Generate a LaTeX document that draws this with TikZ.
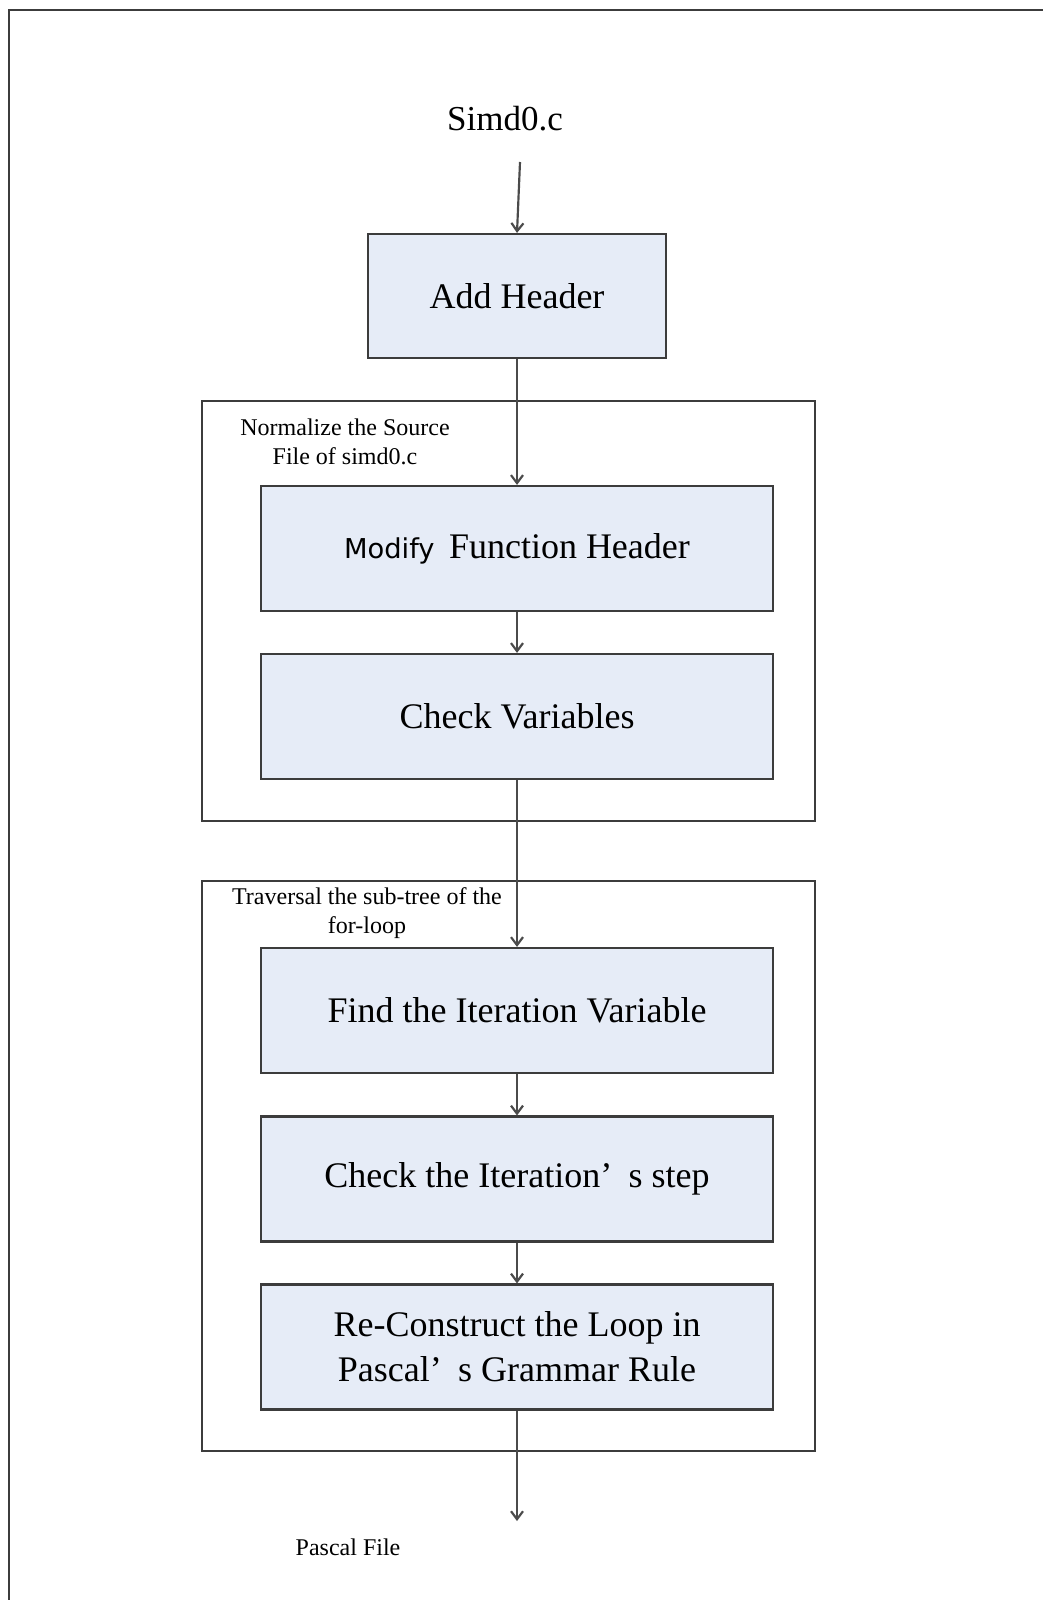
\documentclass[tikz,border=0pt]{standalone}
\usepackage{fontspec}
\setmainfont{Liberation Serif}
\newfontfamily\modfont{DejaVu Sans}
\usetikzlibrary{arrows.meta}
\definecolor{boxfill}{RGB}{230,236,247}
\definecolor{boxline}{RGB}{60,60,60}
\definecolor{flowline}{RGB}{75,75,75}
\tikzset{
  stepbox/.style={draw=boxline, line width=0.65pt, fill=boxfill, minimum width=153.6pt,
    minimum height=37.5pt, inner sep=0pt, align=center,
    font=\fontsize{10.8}{13.5}\selectfont},
  groupbox/.style={draw=boxline, line width=0.5pt, minimum width=183.9pt, inner sep=0pt},
  grouplabel/.style={align=center, inner sep=0pt, font=\fontsize{7.2}{8.6}\selectfont},
  flow/.style={draw=flowline, line width=0.65pt, -{Straight Barb[length=2.4pt,width=3.6pt]}}
}
\begin{document}
\begin{tikzpicture}[x=0.3pt, y=-0.3pt]
    \useasboundingbox (0,0) rectangle (1043,1600);

    % Frame
    \draw[boxline, line width=0.6pt] (9,1600) -- (9,10) -- (1043,10);

    % Input
    \node[inner sep=0pt, font=\fontsize{10.5}{12}\selectfont] (simd) at (505,119) {Simd0.c};
    \coordinate (start) at (520,162);
    \node[stepbox, minimum width=89.4pt, minimum height=37.2pt] (add) at (517,296) {Add Header};

    % Normalize group
    \node[groupbox, minimum height=126pt] (norm) at (508.5,611) {};
    \node[grouplabel] (normlab) at (345,442) {Normalize the Source\\File of simd0.c};
    \node[stepbox] (modify) at (517,548.5) {{\modfont\fontsize{8.2}{10}\selectfont Modify}\hspace{0.15em} Function Header};
    \node[stepbox] (checkvar) at (517,716.5) {Check Variables};

    % Traversal group
    \node[groupbox, minimum height=171pt] (trav) at (508.5,1166) {};
    \node[grouplabel] (travlab) at (367,913) {Traversal the sub-tree of the\\for-loop};
    \node[stepbox] (find) at (517,1010.5) {Find the Iteration Variable};
    \node[stepbox] (iterstep) at (517,1179) {Check the Iteration’\hspace{0.45em}s step};
    \node[stepbox] (recon) at (517,1347) {Re-Construct the Loop in\\Pascal’\hspace{0.45em}s Grammar Rule};

    % Output
    \coordinate (finish) at (517,1521);
    \node[inner sep=0pt, font=\fontsize{7.2}{8.6}\selectfont] (pascal) at (348,1547) {Pascal File};

    % Arrows
    \draw[flow] (start) -- (add.north);
    \draw[flow] (add) -- (modify);
    \draw[flow] (modify) -- (checkvar);
    \draw[flow] (checkvar) -- (find);
    \draw[flow] (find) -- (iterstep);
    \draw[flow] (iterstep) -- (recon);
    \draw[flow] (recon) -- (finish);
\end{tikzpicture}
\end{document}
